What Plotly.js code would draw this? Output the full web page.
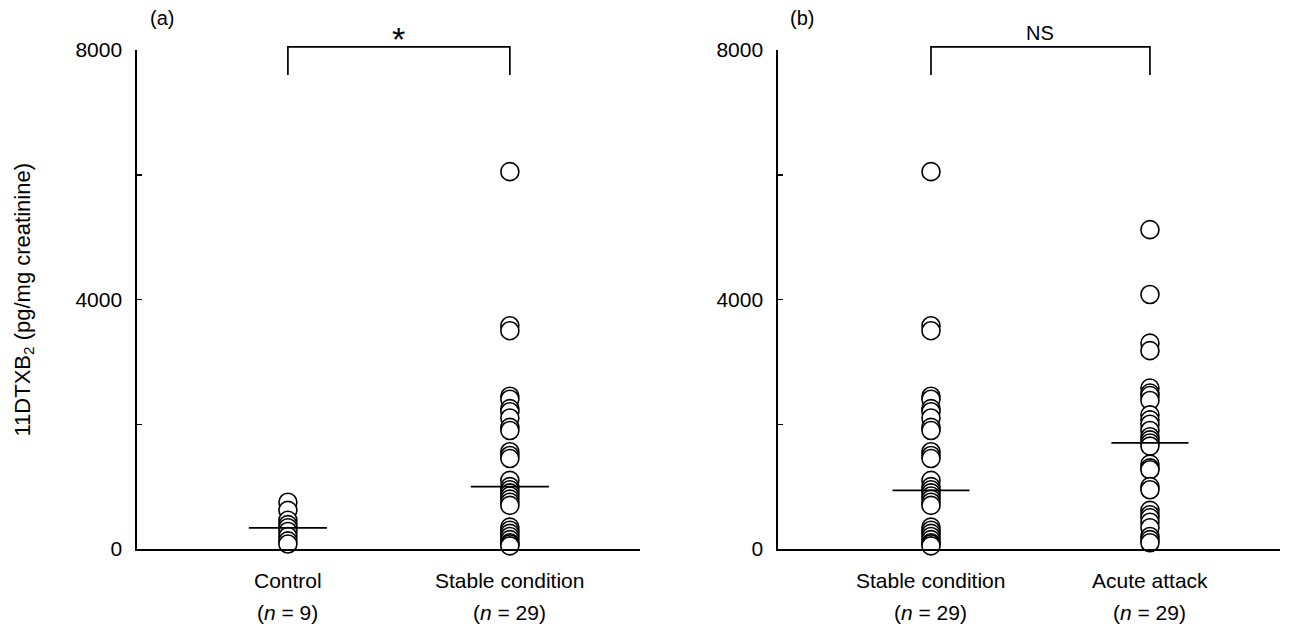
<!DOCTYPE html>
<html>
<head>
<meta charset="utf-8">
<script src="https://cdn.plot.ly/plotly-3.0.1.min.js"></script>
<style>html,body{margin:0;padding:0;background:#fff}#chart{width:1297px;height:630px}</style>
</head>
<body>
<div id="chart"></div>
<script>
// ---- data ----
const panelLabels = ["(a)", "(b)"];
const panelACategories = ["Control", "Stable condition"];
const panelBCategories = ["Stable condition", "Acute attack"];
const groupN = {"Control": 9, "Stable condition": 29, "Acute attack": 29};
const controlValues = [750, 620, 460, 390, 340, 280, 200, 130, 80];
const stableValues = [6050, 3580, 3500, 2450, 2400, 2250, 2200, 2100, 1950, 1900, 1560, 1500, 1450, 1100, 1000,
                      950, 900, 850, 800, 750, 700, 350, 300, 250, 200, 150, 100, 80, 50];
const acuteValues = [5120, 4080, 3300, 3180, 2580, 2500, 2460, 2380, 2150, 2070, 2000, 1900, 1800, 1750, 1700,
                     1650, 1360, 1300, 1270, 1000, 950, 620, 550, 500, 430, 340, 200, 150, 100];
const medianA = [340, 1000];
const medianB = [940, 1700];
const sigLabels = ["*", "NS"];
const yRange = [0, 8000];
const yTickVals = [0, 4000, 8000];
const yTickText = ["0", "4000", "8000"];
const yMinorTickVals = [2000, 6000];
const bracketX = [1, 2];
const bracketY = [7600, 8050];   // leg bottom, bar top (data units)

// ---- style ----
const FONT = "Liberation Sans, Arial, sans-serif";
const FS = 21;
const markerStyle = {symbol: "circle", size: 18, color: "white", line: {color: "black", width: 1.6}};
const medianHalf = 0.176;

function pts(values, xpos, xa, ya) {
  return {type: "scatter", mode: "markers", x: values.map(() => xpos), y: values,
          xaxis: xa, yaxis: ya, marker: markerStyle, cliponaxis: false, hoverinfo: "y", showlegend: false};
}
function medianLine(m, xpos, xa, ya) {
  return {type: "scatter", mode: "lines", x: [xpos - medianHalf, xpos + medianHalf], y: [m, m],
          xaxis: xa, yaxis: ya, line: {color: "black", width: 1.7}, hoverinfo: "skip", showlegend: false};
}

const traces = [
  pts(controlValues, 1, "x", "y"),
  pts(stableValues, 2, "x", "y"),
  pts(stableValues, 1, "x2", "y2"),
  pts(acuteValues, 2, "x2", "y2"),
  medianLine(medianA[0], 1, "x", "y"),
  medianLine(medianA[1], 2, "x", "y"),
  medianLine(medianB[0], 1, "x2", "y2"),
  medianLine(medianB[1], 2, "x2", "y2")
];

const yAxisBase = {range: yRange, tickmode: "array", tickvals: yTickVals, ticktext: yTickText, ticks: "inside", ticklen: 5,
  tickwidth: 1.5, tickcolor: "black", showline: true, linecolor: "black", linewidth: 1.6, showgrid: false,
  minor: {tickmode: "array", tickvals: yMinorTickVals, ticks: "inside", ticklen: 5, tickwidth: 1.5, tickcolor: "black", showgrid: false},
  zeroline: false, tickfont: {family: FONT, size: FS, color: "black"}, ticklabelstandoff: 9,
  domain: [0, 1], fixedrange: true};
const xAxisBase = {showline: true, linecolor: "black", linewidth: 1.6, showgrid: false, zeroline: false,
  showticklabels: false, ticks: "", fixedrange: true};

// bracket drawn as a shape, y given as fraction of the y-axis domain derived from data units
const toFrac = v => (v - yRange[0]) / (yRange[1] - yRange[0]);
const shapes = [];
function bracket(xref, yref) {
  const b = toFrac(bracketY[0]), t = toFrac(bracketY[1]);
  shapes.push({type: "path", xref: xref, yref: yref + " domain",
    path: `M ${bracketX[0]} ${b} L ${bracketX[0]} ${t} L ${bracketX[1]} ${t} L ${bracketX[1]} ${b}`,
    line: {color: "black", width: 1.7}});
}
bracket("x", "y");
bracket("x2", "y2");

const annotations = [];
function catLabels(cats, xref) {
  cats.forEach((c, i) => {
    annotations.push({x: i + 1, xref: xref, y: 0, yref: "paper", yanchor: "middle", yshift: -31, text: c,
      showarrow: false, font: {family: FONT, size: FS, color: "black"}});
    annotations.push({x: i + 1, xref: xref, y: 0, yref: "paper", yanchor: "middle", yshift: -63,
      text: "(<i>n</i> = " + groupN[c] + ")", showarrow: false, font: {family: FONT, size: FS, color: "black"}});
  });
}
catLabels(panelACategories, "x");
catLabels(panelBCategories, "x2");

function sigLabel(xref, yref, label) {
  const star = label === "*";
  annotations.push({x: (bracketX[0] + bracketX[1]) / 2, xref: xref, y: 1, yref: yref + " domain", yanchor: "middle",
    yshift: star ? 11 : 17, text: label, showarrow: false,
    font: {family: FONT, size: star ? 34 : FS - 1, color: "black"}});
}
sigLabel("x", "y", sigLabels[0]);
sigLabel("x2", "y2", sigLabels[1]);

annotations.push({x: 0, xref: "x domain", y: 1, yref: "y domain", yanchor: "middle", yshift: 32, xshift: 11,
  xanchor: "left", text: panelLabels[0], showarrow: false, font: {family: FONT, size: FS - 1, color: "black"}});
annotations.push({x: 0, xref: "x2 domain", y: 1, yref: "y2 domain", yanchor: "middle", yshift: 32, xshift: 10,
  xanchor: "left", text: panelLabels[1], showarrow: false, font: {family: FONT, size: FS - 1, color: "black"}});
annotations.push({x: 0, xref: "paper", xanchor: "center", xshift: 23, y: 0.5, yref: "paper", yshift: 0,
  textangle: -90, showarrow: false,
  text: "11DTXB<sub>2</sub> (pg/mg creatinine)", font: {family: FONT, size: 22, color: "black"}});

const layout = {
  width: 1297, height: 630,
  margin: {l: 0, r: 0, t: 50, b: 81},
  paper_bgcolor: "white", plot_bgcolor: "white",
  showlegend: false,
  xaxis: Object.assign({}, xAxisBase, {domain: [0.1056, 0.4934], range: [0.32, 2.586], anchor: "y"}),
  yaxis: Object.assign({}, yAxisBase, {anchor: "x"}),
  xaxis2: Object.assign({}, xAxisBase, {domain: [0.5998, 0.9869], range: [0.301, 2.594], anchor: "y2"}),
  yaxis2: Object.assign({}, yAxisBase, {anchor: "x2"}),
  annotations: annotations,
  shapes: shapes
};

Plotly.newPlot("chart", traces, layout, {displayModeBar: false, staticPlot: true});
</script>
</body>
</html>
